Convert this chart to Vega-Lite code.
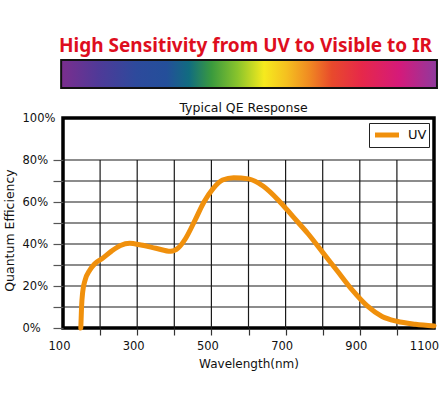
{
  "$schema": "https://vega.github.io/schema/vega-lite/v6.json",
  "width": 371,
  "height": 210,
  "autosize": "none",
  "padding": {"left": 63, "top": 118, "right": 11, "bottom": 71},
  "background": "white",
  "config": {
    "font": "DejaVu Sans",
    "view": {"stroke": "black", "strokeWidth": 3.5},
    "axis": {"labelOverlap": false, "labelFlush": false}
  },
  "title": {
    "text": "High Sensitivity from UV to Visible to IR",
    "font": "Noto Sans",
    "fontSize": 19,
    "fontWeight": "bold",
    "color": "#DE0E1E",
    "frame": "group",
    "anchor": "middle",
    "offset": 3,
    "dx": -3
  },
  "datasets": {
    "qe": [
      {"wavelength": 148, "qe": 0, "series": "UV"},
      {"wavelength": 150, "qe": 10, "series": "UV"},
      {"wavelength": 153, "qe": 17, "series": "UV"},
      {"wavelength": 160, "qe": 23, "series": "UV"},
      {"wavelength": 172, "qe": 27.5, "series": "UV"},
      {"wavelength": 185, "qe": 30.5, "series": "UV"},
      {"wavelength": 205, "qe": 33, "series": "UV"},
      {"wavelength": 230, "qe": 36.5, "series": "UV"},
      {"wavelength": 255, "qe": 39.3, "series": "UV"},
      {"wavelength": 280, "qe": 40.3, "series": "UV"},
      {"wavelength": 310, "qe": 39.5, "series": "UV"},
      {"wavelength": 350, "qe": 38, "series": "UV"},
      {"wavelength": 390, "qe": 36.5, "series": "UV"},
      {"wavelength": 410, "qe": 38, "series": "UV"},
      {"wavelength": 430, "qe": 42.5, "series": "UV"},
      {"wavelength": 455, "qe": 51, "series": "UV"},
      {"wavelength": 480, "qe": 60, "series": "UV"},
      {"wavelength": 505, "qe": 66.5, "series": "UV"},
      {"wavelength": 530, "qe": 70.5, "series": "UV"},
      {"wavelength": 560, "qe": 71.6, "series": "UV"},
      {"wavelength": 600, "qe": 71, "series": "UV"},
      {"wavelength": 640, "qe": 67.5, "series": "UV"},
      {"wavelength": 680, "qe": 61, "series": "UV"},
      {"wavelength": 720, "qe": 53, "series": "UV"},
      {"wavelength": 760, "qe": 45, "series": "UV"},
      {"wavelength": 800, "qe": 36, "series": "UV"},
      {"wavelength": 840, "qe": 27, "series": "UV"},
      {"wavelength": 880, "qe": 18, "series": "UV"},
      {"wavelength": 920, "qe": 10.5, "series": "UV"},
      {"wavelength": 960, "qe": 5.5, "series": "UV"},
      {"wavelength": 1000, "qe": 3.2, "series": "UV"},
      {"wavelength": 1050, "qe": 1.8, "series": "UV"},
      {"wavelength": 1100, "qe": 1, "series": "UV"}
    ],
    "hgrid": [
      {"qe": 10}, {"qe": 20}, {"qe": 30}, {"qe": 40},
      {"qe": 50}, {"qe": 60}, {"qe": 70}, {"qe": 80}
    ],
    "vgrid": [
      {"wavelength": 200}, {"wavelength": 300}, {"wavelength": 400},
      {"wavelength": 500}, {"wavelength": 600}, {"wavelength": 700},
      {"wavelength": 800}, {"wavelength": 900}, {"wavelength": 1000}
    ],
    "band": [{"label": "spectrum"}]
  },
  "resolve": {"axis": {"x": "independent", "y": "independent"}},
  "layer": [
    {
      "data": {"name": "band"},
      "mark": {
        "type": "rect",
        "stroke": "#111111",
        "strokeWidth": 2,
        "fill": {
          "gradient": "linear",
          "x1": 0, "x2": 1, "y1": 0, "y2": 0,
          "stops": [
            {"offset": 0, "color": "#7B2E8E"},
            {"offset": 0.1, "color": "#4F3A98"},
            {"offset": 0.2, "color": "#2D4A9C"},
            {"offset": 0.28, "color": "#244F9A"},
            {"offset": 0.34, "color": "#116C80"},
            {"offset": 0.4, "color": "#3A9A3E"},
            {"offset": 0.47, "color": "#8AC42C"},
            {"offset": 0.54, "color": "#F6EA1E"},
            {"offset": 0.6, "color": "#F5C020"},
            {"offset": 0.66, "color": "#F08A22"},
            {"offset": 0.72, "color": "#E84A2C"},
            {"offset": 0.8, "color": "#E6284A"},
            {"offset": 0.9, "color": "#D51A7A"},
            {"offset": 1, "color": "#8F3A9E"}
          ]
        },
        "clip": false
      },
      "encoding": {
        "x": {"datum": 95, "type": "quantitative", "axis": null},
        "x2": {"datum": 1108},
        "y": {"datum": 114.3, "type": "quantitative", "axis": null},
        "y2": {"datum": 127.6}
      }
    },
    {
      "data": {"name": "hgrid"},
      "mark": {"type": "rule", "color": "#1a1a1a", "strokeWidth": 1.2},
      "encoding": {
        "y": {"field": "qe", "type": "quantitative", "axis": null}
      }
    },
    {
      "data": {"name": "vgrid"},
      "mark": {"type": "rule", "color": "#1a1a1a", "strokeWidth": 1.2},
      "encoding": {
        "x": {
          "field": "wavelength",
          "type": "quantitative",
          "axis": {
            "orient": "top",
            "labels": false,
            "ticks": false,
            "domain": false,
            "grid": false,
            "title": "Typical QE Response",
            "titleFont": "DejaVu Sans",
            "titleFontSize": 12.5,
            "titleFontWeight": "normal",
            "titleColor": "#111111",
            "titlePadding": 4,
            "titleX": 180
          }
        },
        "y": {"datum": 0, "type": "quantitative", "axis": null},
        "y2": {"datum": 80}
      }
    },
    {
      "data": {"name": "qe"},
      "mark": {"type": "line", "strokeWidth": 5, "interpolate": "monotone", "strokeCap": "round", "clip": false},
      "encoding": {
        "x": {
          "field": "wavelength",
          "type": "quantitative",
          "scale": {"domain": [100, 1100], "nice": false, "zero": false},
          "axis": {
            "orient": "bottom",
            "values": [100, 200, 300, 400, 500, 600, 700, 800, 900, 1000, 1100],
            "labelExpr": "(datum.value - 100) % 200 == 0 ? datum.label : ''",
            "format": "d",
            "grid": false,
            "domain": false,
            "tickSize": 7,
            "tickColor": "#333333",
            "tickWidth": 1.2,
            "tickOpacity": {"condition": {"test": "datum.value == 100 || datum.value == 1100", "value": 0}, "value": 1},
            "labelOffset": {"condition": {"test": "datum.value == 1100", "value": -10}, "value": -4},
            "labelFontSize": 11.5,
            "labelColor": "#111111",
            "labelPadding": 5,
            "labelFlush": false,
            "labelOverlap": false,
            "title": "Wavelength(nm)",
            "titleFontSize": 12,
            "titleFontWeight": "normal",
            "titleColor": "#111111",
            "titlePadding": 7
          }
        },
        "y": {
          "field": "qe",
          "type": "quantitative",
          "scale": {"domain": [0, 100], "nice": false},
          "axis": {
            "orient": "left",
            "values": [0, 10, 20, 30, 40, 50, 60, 70, 80, 100],
            "labelExpr": "datum.value % 20 == 0 ? datum.value + '%' : ''",
            "grid": false,
            "domain": false,
            "tickSize": 10,
            "tickColor": "#555555",
            "tickWidth": 1.2,
            "tickOpacity": {"condition": {"test": "datum.value > 80", "value": 0}, "value": 1},
            "labelFontSize": 11.5,
            "labelColor": "#111111",
            "labelAlign": "left",
            "labelPadding": 31,
            "labelOverlap": false,
            "labelFlush": false,
            "title": "Quantum Efficiency",
            "titleFontSize": 12.5,
            "titleFontWeight": "normal",
            "titleColor": "#111111",
            "titlePadding": 6,
            "titleY": 112
          }
        },
        "color": {
          "field": "series",
          "type": "nominal",
          "scale": {"domain": ["UV"], "range": ["#F0900C"]},
          "legend": {
            "title": null,
            "orient": "top-right",
            "offset": 5,
            "strokeColor": "#222222",
            "fillColor": "white",
            "padding": 2,
            "symbolType": "M-1.6,0H1.6",
            "symbolStrokeWidth": 5,
            "symbolSize": 225,
            "symbolOffset": 6,
            "labelOffset": 11,
            "labelFontSize": 13,
            "labelColor": "#111111",
            "labelFont": "DejaVu Sans"
          }
        }
      }
    }
  ]
}
